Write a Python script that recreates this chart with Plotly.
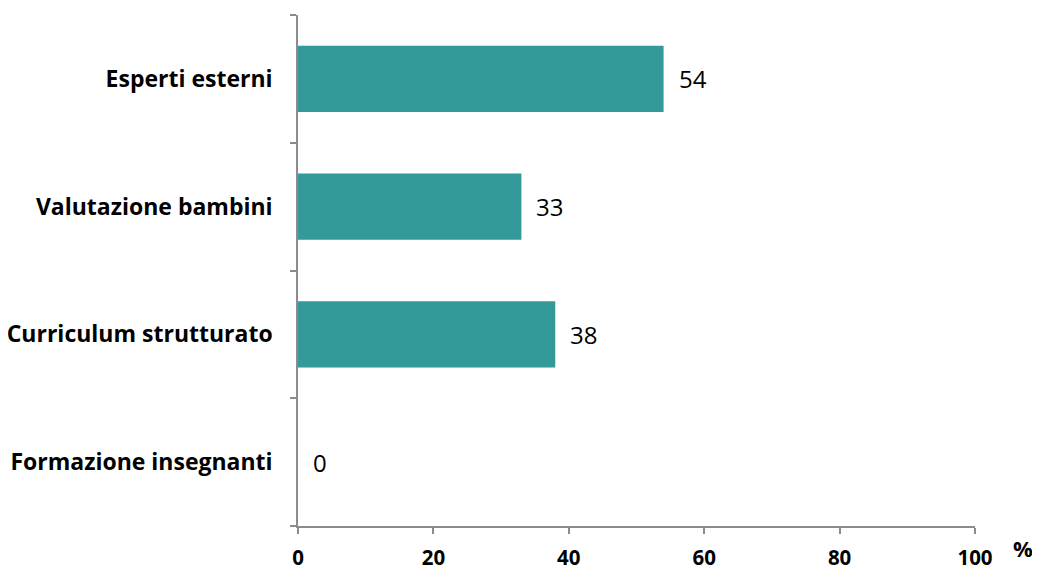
import plotly.graph_objects as go

categories = ["Formazione insegnanti", "Curriculum strutturato", "Valutazione bambini", "Esperti esterni"]
values = [0, 38, 33, 54]
x_ticks = [0, 20, 40, 60, 80, 100]

FONT = "Open Sans, sans-serif"
BAR = "#339999"
AXIS = "#8c8c8c"

fig = go.Figure()
fig.add_trace(go.Bar(
    y=categories, x=values, orientation="h",
    marker=dict(color=BAR, line=dict(width=0)),
    width=0.52, hoverinfo="skip",
))

for c, v in zip(categories, values):
    fig.add_annotation(x=v, y=c, text=str(v), showarrow=False,
                       xanchor="left", yanchor="middle", xshift=13,
                       font=dict(family=FONT, size=24, color="#000000"))

fig.add_annotation(x=1.0, y=0, xref="paper", yref="paper", text="<b>%</b>",
                   showarrow=False, xanchor="left", yanchor="middle",
                   xshift=36, yshift=-22,
                   font=dict(family=FONT, size=22, color="#000000"))

fig.update_layout(
    width=1032, height=564,
    margin=dict(l=290, r=65, t=7, b=46),
    paper_bgcolor="white", plot_bgcolor="white",
    showlegend=False,
    bargap=0.48,
)
fig.update_xaxes(
    range=[0, 100], tickvals=x_ticks, ticktext=[f"<b>{t}</b>" for t in x_ticks],
    showgrid=False, zeroline=False,
    showline=True, linecolor=AXIS, linewidth=1.5,
    ticks="outside", ticklen=6, tickcolor=AXIS, tickwidth=1.5,
    tickfont=dict(family=FONT, size=20.5, color="#000000"),
    ticklabelstandoff=7,
    automargin=False,
    fixedrange=True,
)
fig.update_yaxes(
    categoryorder="array", categoryarray=categories,
    tickvals=categories, ticktext=[f"<b>{c}</b>" for c in categories],
    showgrid=False, zeroline=False,
    showline=True, linecolor=AXIS, linewidth=1.5,
    ticks="outside", ticklen=6, tickcolor=AXIS, tickwidth=1.5,
    tickson="boundaries",
    tickfont=dict(family=FONT, size=23, color="#000000"),
    ticklabelstandoff=19,
    automargin=False,
    fixedrange=True,
)

fig.write_html("out.html")
